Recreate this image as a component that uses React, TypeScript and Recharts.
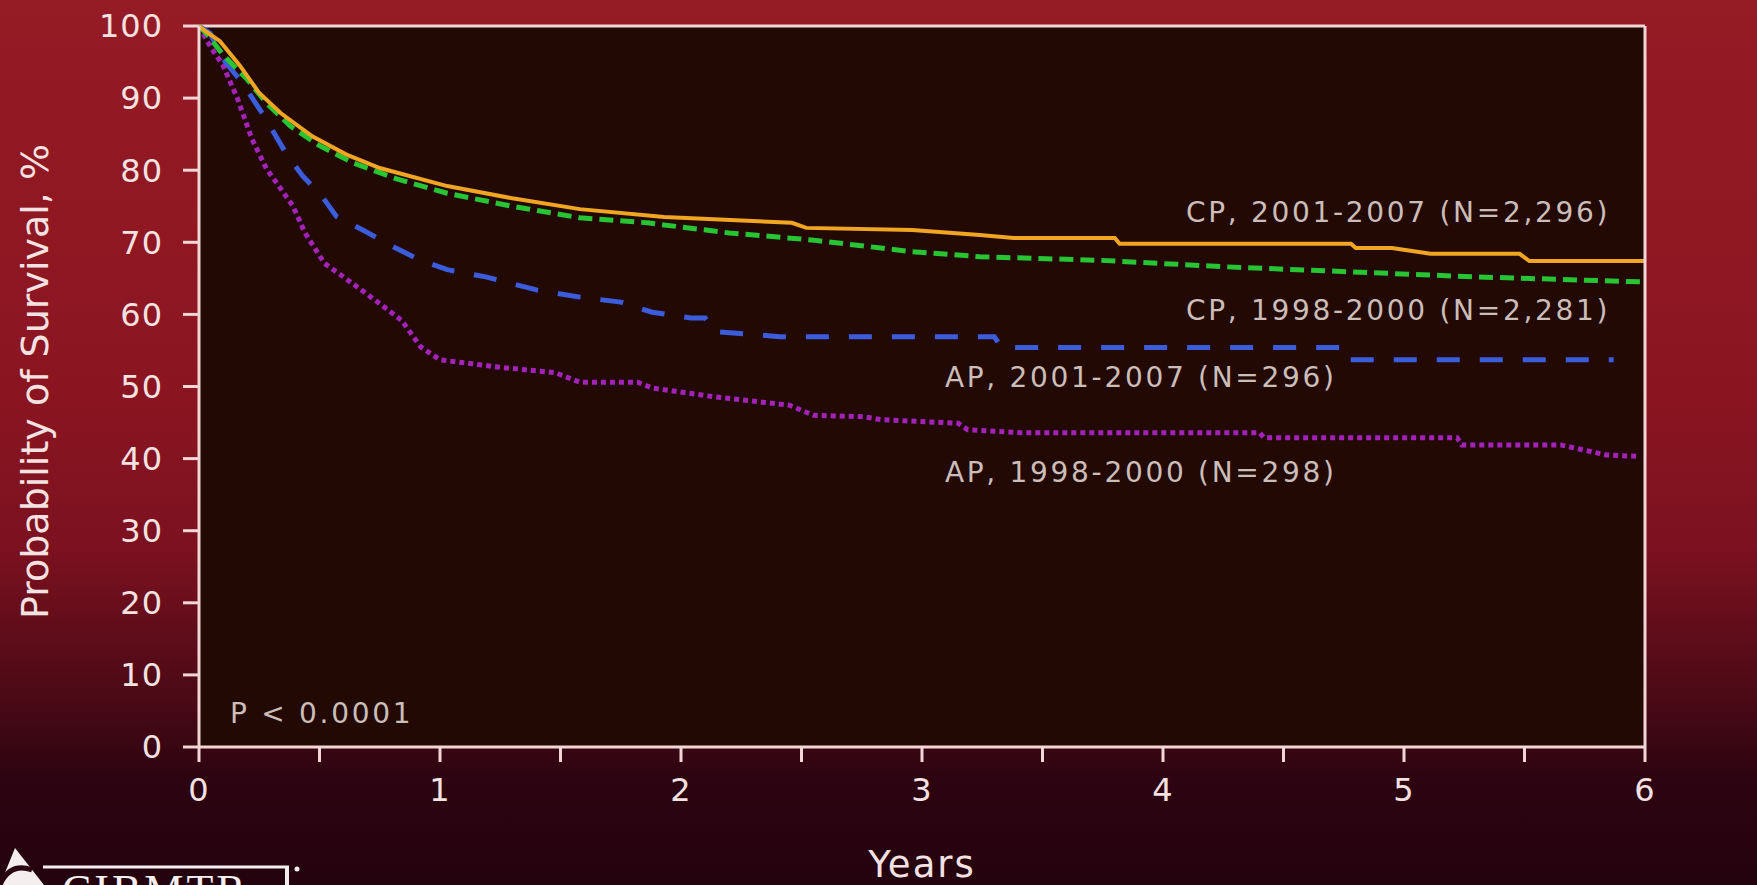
import React from 'react';
import { LineChart, Line, XAxis, YAxis, ReferenceLine, ReferenceArea, ReferenceDot } from 'recharts';

const W = 1757;
const H = 885;

// Kaplan-Meier curves: [years, survival %]
const cp2001: [number, number][] = [[0,100],[0.03,99.2],[0.087,97.9],[0.17,94.5],[0.25,90.7],[0.34,87.9],[0.47,84.7],[0.61,82.2],[0.75,80.3],[1.03,77.8],[1.3,76.1],[1.58,74.6],[1.93,73.5],[2.46,72.7],[2.52,72.0],[2.96,71.7],[3.24,71.0],[3.38,70.6],[3.8,70.6],[3.82,69.8],[4.78,69.8],[4.8,69.2],[4.95,69.2],[5.11,68.4],[5.48,68.4],[5.52,67.4],[6.0,67.4]];
const cp1998: [number, number][] = [[0,100],[0.04,98.6],[0.1,96.0],[0.2,92.6],[0.28,89.3],[0.38,86.1],[0.5,83.4],[0.64,81.0],[0.82,78.8],[1.03,76.8],[1.3,75.0],[1.58,73.4],[1.86,72.7],[2.2,71.3],[2.55,70.3],[2.83,69.2],[2.96,68.7],[3.24,68.0],[3.74,67.5],[4.26,66.6],[4.78,65.9],[5.3,65.2],[6.0,64.5]];
const ap2001: [number, number][] = [[0,100],[0.046,99.0],[0.1,95.4],[0.18,92.1],[0.27,87.5],[0.36,82.4],[0.43,79.2],[0.51,76.4],[0.57,73.6],[0.68,71.7],[0.81,69.3],[0.92,67.5],[1.03,66.2],[1.19,65.2],[1.4,63.4],[1.58,62.4],[1.75,61.7],[1.88,60.3],[2.04,59.5],[2.1,59.5],[2.14,57.6],[2.27,57.3],[2.41,56.9],[3.3,56.9],[3.33,55.4],[4.74,55.4],[4.76,53.7],[5.87,53.7]];
const ap1998: [number, number][] = [[0,100],[0.046,97.2],[0.1,94.5],[0.16,89.9],[0.22,84.3],[0.28,80.2],[0.34,77.4],[0.39,75.0],[0.44,71.3],[0.52,67.1],[0.6,65.2],[0.73,62.0],[0.84,59.2],[0.92,55.5],[1.0,53.7],[1.24,52.7],[1.48,51.9],[1.58,50.6],[1.82,50.6],[1.88,49.8],[2.13,48.6],[2.45,47.4],[2.55,46.0],[2.76,45.8],[2.83,45.4],[3.15,44.9],[3.19,44.0],[3.41,43.6],[4.4,43.6],[4.42,42.9],[5.22,42.9],[5.24,41.9],[5.65,41.9],[5.84,40.5],[5.98,40.3]];

const xTicks = [0, 0.5, 1, 1.5, 2, 2.5, 3, 3.5, 4, 4.5, 5, 5.5, 6];
const yTicks = [0, 10, 20, 30, 40, 50, 60, 70, 80, 90, 100];

const seriesLabels = ['CP, 2001-2007 (N=2,296)', 'CP, 1998-2000 (N=2,281)', 'AP, 2001-2007 (N=296)', 'AP, 1998-2000 (N=298)'];
const pValueText = 'P < 0.0001';

// annotation anchors in data coordinates (years, %)
const annotations: { text: string; t: number; v: number }[] = [
  { text: seriesLabels[0], t: 4.095, v: 74.1 },
  { text: seriesLabels[1], t: 4.095, v: 60.6 },
  { text: seriesLabels[2], t: 3.095, v: 51.2 },
  { text: seriesLabels[3], t: 3.095, v: 38.1 },
  { text: pValueText, t: 0.129, v: 4.6 },
];

const toData = (arr: [number, number][]) => arr.map(([t, v]) => ({ t, v }));

const AXIS = '#f2d6d6';
const TICK_TEXT = '#f4e2e2';
const ANNOT = '#cbbdb8';
const FONT = '"DejaVu Sans", Verdana, sans-serif';

const tickStyle = { fill: TICK_TEXT, fontSize: 32, fontFamily: FONT, letterSpacing: 1 };

const annotContent = (text: string) => (props: any) => {
  const vb = props.viewBox || {};
  return (
    <text
      x={vb.x}
      y={vb.y}
      fill={ANNOT}
      fontSize={28}
      fontFamily={FONT}
      letterSpacing={2.7}
      dominantBaseline="central"
      textAnchor="start"
    >
      {text}
    </text>
  );
};

export default function App() {
  return (
    <div
      style={{
        position: 'absolute',
        left: 0,
        top: 0,
        width: W,
        height: H,
        overflow: 'hidden',
        background:
          'linear-gradient(to bottom, #951b25 0%, #8a1521 45%, #7c1120 62%, #4d0a16 78%, #2d0411 88%, #24030e 100%)',
      }}
    >
      <LineChart width={W} height={H} margin={{ top: 26, right: 0, bottom: 0, left: 0 }}>
        <XAxis
          dataKey="t"
          type="number"
          domain={[0, 6]}
          ticks={xTicks}
          tickFormatter={(v: number) => (Number.isInteger(v) ? String(v) : '')}
          height={138}
          axisLine={{ stroke: AXIS, strokeWidth: 3 }}
          tickLine={{ stroke: AXIS, strokeWidth: 3 }}
          tickSize={15}
          tickMargin={16}
          tick={tickStyle}
          allowDuplicatedCategory={false}
          label={{
            content: (p: any) => {
              const vb = p.viewBox || {};
              return (
                <text
                  x={vb.x + vb.width / 2}
                  y={vb.y + 130}
                  fill={TICK_TEXT}
                  fontSize={37}
                  fontFamily={FONT}
                  letterSpacing={2}
                  textAnchor="middle"
                >
                  Years
                </text>
              );
            },
          }}
        />
        <YAxis
          yAxisId="left"
          orientation="left"
          type="number"
          domain={[0, 100]}
          ticks={yTicks}
          width={199}
          axisLine={{ stroke: AXIS, strokeWidth: 3 }}
          tickLine={{ stroke: AXIS, strokeWidth: 3 }}
          tickSize={16}
          tickMargin={20}
          tick={tickStyle}
          label={{
            content: (p: any) => {
              const vb = p.viewBox || {};
              const cx = 35;
              const cy = vb.y + vb.height / 2 - 5;
              return (
                <text
                  x={cx}
                  y={cy}
                  transform={`rotate(-90 ${cx} ${cy})`}
                  fill={TICK_TEXT}
                  fontSize={38}
                  fontFamily={FONT}
                  textAnchor="middle"
                  dominantBaseline="central"
                >
                  Probability of Survival, %
                </text>
              );
            },
          }}
        />
        <YAxis
          yAxisId="right"
          orientation="right"
          type="number"
          domain={[0, 100]}
          ticks={yTicks}
          width={112}
          axisLine={{ stroke: AXIS, strokeWidth: 3 }}
          tickLine={{ stroke: AXIS, strokeWidth: 3 }}
          tickSize={15}
          tickMargin={20}
          tick={tickStyle}
        />
        <ReferenceArea
          yAxisId="left"
          x1={0}
          x2={6}
          y1={0}
          y2={100}
          fill="#230904"
          fillOpacity={1}
          stroke="none"
        />
        <ReferenceLine yAxisId="left" y={100} stroke={AXIS} strokeWidth={3} />

        <Line
          yAxisId="left"
          data={toData(ap1998)}
          dataKey="v"
          type="linear"
          stroke="#a323b8"
          strokeWidth={5}
          strokeDasharray="5 4"
          dot={false}
          activeDot={false}
          isAnimationActive={false}
        />
        <Line
          yAxisId="left"
          data={toData(ap2001)}
          dataKey="v"
          type="linear"
          stroke="#3b5ddb"
          strokeWidth={5}
          strokeDasharray="23 20"
          dot={false}
          activeDot={false}
          isAnimationActive={false}
        />
        <Line
          yAxisId="left"
          data={toData(cp1998)}
          dataKey="v"
          type="linear"
          stroke="#27c433"
          strokeWidth={5}
          strokeDasharray="14 7"
          dot={false}
          activeDot={false}
          isAnimationActive={false}
        />
        <Line
          yAxisId="left"
          data={toData(cp2001)}
          dataKey="v"
          type="linear"
          stroke="#f0a622"
          strokeWidth={4}
          dot={false}
          activeDot={false}
          isAnimationActive={false}
        />

        {annotations.map((a, i) => (
          <ReferenceDot
            key={i}
            yAxisId="left"
            x={a.t}
            y={a.v}
            r={0}
            fill="none"
            stroke="none"
            label={{ content: annotContent(a.text) }}
          />
        ))}
      </LineChart>

      <svg
        width={W}
        height={H}
        style={{ position: 'absolute', left: 0, top: 0, pointerEvents: 'none' }}
      >
        <polygon points="0,885 15,848 44,885" fill="#f4eeee" />
        <path d="M 0 885 Q 10 862 32 870" stroke="#2a0410" strokeWidth={5} fill="none" />
        <line x1={43} y1={867} x2={289} y2={867} stroke="#f4eeee" strokeWidth={3} />
        <line x1={287} y1={866} x2={287} y2={885} stroke="#f4eeee" strokeWidth={4} />
        <circle cx={297} cy={869} r={2.5} fill="#f4eeee" />
        <text
          x={62}
          y={905}
          fill="#f4eeee"
          fontSize={44}
          fontFamily='"Liberation Serif", serif'
          letterSpacing={3}
        >
          CIBMTR
        </text>
      </svg>
    </div>
  );
}
